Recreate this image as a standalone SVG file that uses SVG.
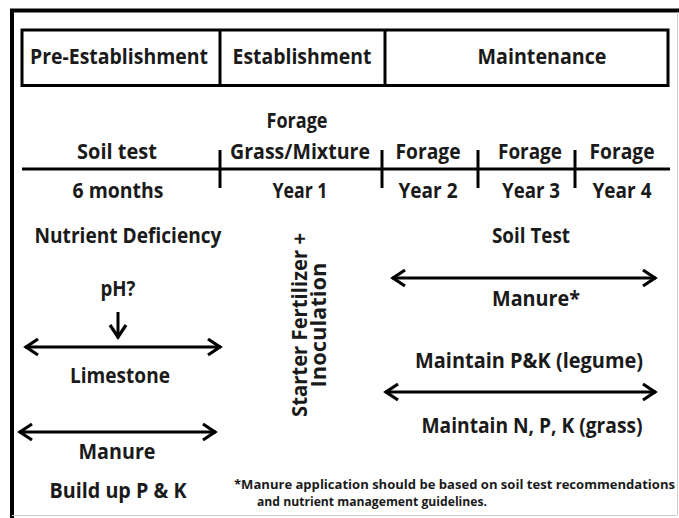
<svg xmlns="http://www.w3.org/2000/svg" width="679" height="518" viewBox="0 0 679 518">
<style>
text{font-family:"Open Sans","Liberation Sans",sans-serif;font-weight:bold;font-size:21px;fill:#1a1a1a;text-anchor:middle}
.fn{font-size:12.5px;text-anchor:start}
.ln{stroke:#000;stroke-width:3;fill:none}
</style>
<defs>
<marker id="arr" markerUnits="userSpaceOnUse" markerWidth="20" markerHeight="22" viewBox="-16 -11 20 22" refX="0" refY="0" orient="auto-start-reverse">
<path d="M-13,-8 L-1,0 L-13,8" stroke="#000" stroke-width="3.2" fill="none"/>
</marker>
</defs>
<rect width="679" height="518" fill="#fff"/>
<g id="frame">
<line x1="10" y1="10.5" x2="679" y2="10.5" stroke="#000" stroke-width="4"/>
<line x1="12" y1="9" x2="12" y2="518" stroke="#000" stroke-width="4"/>
<line x1="677.5" y1="12" x2="677.5" y2="515" stroke="#ccc" stroke-width="1"/>
<line x1="12" y1="515.5" x2="677" y2="515.5" stroke="#ccc" stroke-width="1"/>
</g>
<g id="header">
<rect x="22" y="30" width="646" height="55.5" fill="none" stroke="#000" stroke-width="3"/>
<line x1="220" y1="30" x2="220" y2="85.5" stroke="#000" stroke-width="3"/>
<line x1="385" y1="30" x2="385" y2="85.5" stroke="#000" stroke-width="3"/>
<text x="119" y="64" textLength="178" lengthAdjust="spacingAndGlyphs">Pre-Establishment</text>
<text x="302" y="64" textLength="139" lengthAdjust="spacingAndGlyphs">Establishment</text>
<text x="542" y="64" textLength="129" lengthAdjust="spacingAndGlyphs">Maintenance</text>
</g>
<g id="connectors">
<line class="ln" x1="22" y1="169" x2="670" y2="169"/>
<line class="ln" x1="220" y1="150" x2="220" y2="188"/>
<line class="ln" x1="382" y1="150" x2="382" y2="188"/>
<line class="ln" x1="478" y1="150" x2="478" y2="188"/>
<line class="ln" x1="575" y1="150" x2="575" y2="188"/>
<line class="ln" x1="25" y1="347" x2="221" y2="347" marker-start="url(#arr)" marker-end="url(#arr)"/>
<line class="ln" x1="19" y1="432" x2="216" y2="432" marker-start="url(#arr)" marker-end="url(#arr)"/>
<line class="ln" x1="392" y1="278" x2="656" y2="278" marker-start="url(#arr)" marker-end="url(#arr)"/>
<line class="ln" x1="385" y1="392" x2="656" y2="392" marker-start="url(#arr)" marker-end="url(#arr)"/>
<line class="ln" x1="118" y1="312" x2="118" y2="338" marker-end="url(#arr)"/>
</g>
<g id="timeline-labels">
<text x="117" y="159" textLength="80" lengthAdjust="spacingAndGlyphs">Soil test</text>
<text x="118" y="198" textLength="91" lengthAdjust="spacingAndGlyphs">6 months</text>
<text x="297" y="128" textLength="61" lengthAdjust="spacingAndGlyphs">Forage</text>
<text x="300" y="159" textLength="140" lengthAdjust="spacingAndGlyphs">Grass/Mixture</text>
<text x="300" y="198" textLength="55" lengthAdjust="spacingAndGlyphs">Year 1</text>
<text x="428" y="159" textLength="65" lengthAdjust="spacingAndGlyphs">Forage</text>
<text x="428" y="198" textLength="59" lengthAdjust="spacingAndGlyphs">Year 2</text>
<text x="530" y="159" textLength="64" lengthAdjust="spacingAndGlyphs">Forage</text>
<text x="531" y="198" textLength="58" lengthAdjust="spacingAndGlyphs">Year 3</text>
<text x="622" y="159" textLength="65" lengthAdjust="spacingAndGlyphs">Forage</text>
<text x="622" y="198" textLength="59" lengthAdjust="spacingAndGlyphs">Year 4</text>
</g>
<g id="pre-establishment">
<text x="128" y="243" textLength="187" lengthAdjust="spacingAndGlyphs">Nutrient Deficiency</text>
<text x="118" y="296" textLength="35" lengthAdjust="spacingAndGlyphs">pH?</text>
<text x="120" y="383" textLength="100" lengthAdjust="spacingAndGlyphs">Limestone</text>
<text x="117" y="459" textLength="77" lengthAdjust="spacingAndGlyphs">Manure</text>
<text x="118" y="498" textLength="137" lengthAdjust="spacingAndGlyphs">Build up P &amp; K</text>
</g>
<g id="establishment">
<text transform="translate(307,325) rotate(-90)" x="0" y="0" textLength="184" lengthAdjust="spacingAndGlyphs">Starter Fertilizer +</text>
<text transform="translate(326,325) rotate(-90)" x="0" y="0" textLength="125" lengthAdjust="spacingAndGlyphs">Inoculation</text>
</g>
<g id="maintenance">
<text x="531" y="243" textLength="78" lengthAdjust="spacingAndGlyphs">Soil Test</text>
<text x="536" y="306" textLength="88" lengthAdjust="spacingAndGlyphs">Manure*</text>
<text x="529" y="368" textLength="228" lengthAdjust="spacingAndGlyphs">Maintain P&amp;K (legume)</text>
<text x="532" y="433" textLength="221" lengthAdjust="spacingAndGlyphs">Maintain N, P, K (grass)</text>
</g>
<g id="footnote">
<text class="fn" x="234" y="489" textLength="441" lengthAdjust="spacingAndGlyphs">*Manure application should be based on soil test recommendations</text>
<text class="fn" x="257" y="506" textLength="230" lengthAdjust="spacingAndGlyphs">and nutrient management guidelines.</text>
</g>
</svg>
